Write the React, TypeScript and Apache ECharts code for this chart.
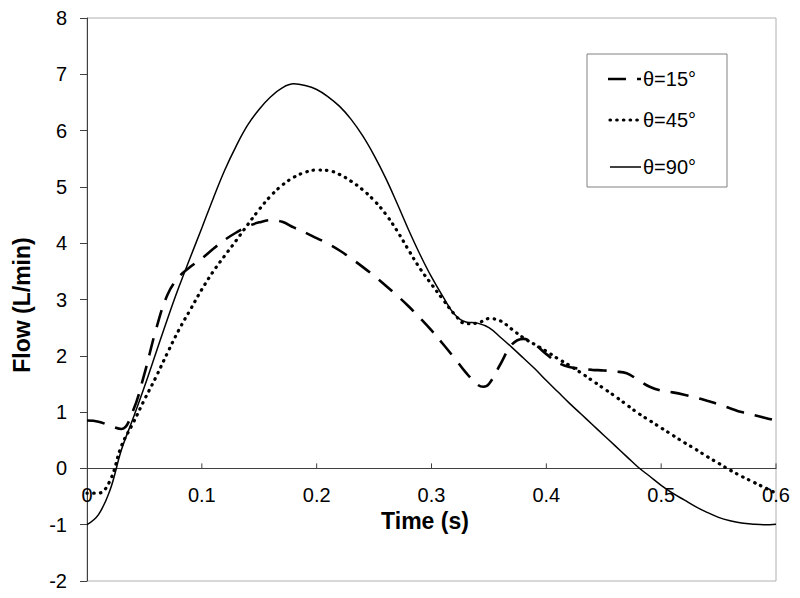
import React, { useEffect, useRef } from "react";
import * as echarts from "echarts";

const time = [0, 0.01, 0.02, 0.03, 0.04, 0.05, 0.06, 0.07, 0.08, 0.09, 0.1, 0.11, 0.12, 0.13, 0.14, 0.15, 0.16, 0.17, 0.18, 0.19, 0.2, 0.21, 0.22, 0.23, 0.24, 0.25, 0.26, 0.27, 0.28, 0.29, 0.3, 0.31, 0.32, 0.33, 0.34, 0.35, 0.36, 0.37, 0.38, 0.39, 0.4, 0.41, 0.42, 0.43, 0.44, 0.45, 0.46, 0.47, 0.48, 0.49, 0.5, 0.51, 0.52, 0.53, 0.54, 0.55, 0.56, 0.57, 0.58, 0.59, 0.6];

const t15 = [0, 0.01, 0.02, 0.03, 0.04, 0.05, 0.06, 0.07, 0.08, 0.09, 0.1, 0.11, 0.12, 0.13, 0.14, 0.15, 0.16, 0.17, 0.18, 0.19, 0.2, 0.21, 0.22, 0.23, 0.24, 0.25, 0.26, 0.27, 0.28, 0.29, 0.3, 0.31, 0.32, 0.33, 0.34, 0.345, 0.35, 0.36, 0.37, 0.38, 0.39, 0.4, 0.41, 0.42, 0.43, 0.44, 0.45, 0.46, 0.47, 0.48, 0.49, 0.5, 0.51, 0.52, 0.53, 0.54, 0.55, 0.56, 0.57, 0.58, 0.59, 0.6];
const flow15 = [0.85, 0.83, 0.76, 0.7, 1.02, 1.68, 2.46, 3.08, 3.4, 3.58, 3.73, 3.9, 4.06, 4.19, 4.3, 4.37, 4.41, 4.38, 4.28, 4.19, 4.09, 3.99, 3.87, 3.73, 3.58, 3.42, 3.25, 3.07, 2.88, 2.67, 2.45, 2.21, 1.96, 1.7, 1.49, 1.45, 1.5, 1.85, 2.2, 2.3, 2.2, 2.03, 1.88, 1.8, 1.77, 1.75, 1.74, 1.72, 1.69, 1.57, 1.45, 1.38, 1.35, 1.31, 1.26, 1.2, 1.14, 1.07, 1.0, 0.95, 0.9, 0.85];

const flow45 = [-0.44, -0.44, -0.22, 0.4, 0.8, 1.22, 1.62, 2.05, 2.46, 2.82, 3.18, 3.5, 3.78, 4.05, 4.33, 4.6, 4.84, 5.03, 5.17, 5.26, 5.3, 5.29, 5.22, 5.1, 4.95, 4.76, 4.52, 4.22, 3.88, 3.55, 3.27, 3.0, 2.74, 2.57, 2.58, 2.66, 2.62, 2.47, 2.32, 2.2, 2.08, 1.95, 1.83, 1.7, 1.56, 1.42, 1.28, 1.13, 0.98, 0.85, 0.72, 0.59, 0.46, 0.34, 0.21, 0.09, -0.03, -0.14, -0.24, -0.34, -0.44];

const flow90 = [-1.0, -0.82, -0.39, 0.33, 0.88, 1.45, 2.05, 2.65, 3.22, 3.75, 4.27, 4.8, 5.3, 5.73, 6.1, 6.38, 6.6, 6.76, 6.83, 6.8, 6.73, 6.6, 6.43, 6.2, 5.91, 5.56, 5.16, 4.71, 4.24, 3.8, 3.4, 3.05, 2.74, 2.6, 2.58, 2.5, 2.33, 2.15, 1.96, 1.77, 1.56, 1.36, 1.16, 0.97, 0.78, 0.59, 0.4, 0.21, 0.02, -0.14, -0.3, -0.44, -0.56, -0.68, -0.78, -0.87, -0.93, -0.97, -0.99, -1.0, -0.99];

const seriesNames = ["θ=15°", "θ=45°", "θ=90°"];
const xTicks = [0, 0.1, 0.2, 0.3, 0.4, 0.5, 0.6];
const yTicks = [-2, -1, 0, 1, 2, 3, 4, 5, 6, 7, 8];

const FONT = "'Liberation Sans', Arial, sans-serif";

const zip = (t: number[], v: number[]) => t.map((x, i) => [x, v[i]]);

export default function App() {
  const ref = useRef<HTMLDivElement>(null);
  useEffect(() => {
    if (!ref.current) return;
    const chart = echarts.init(ref.current, undefined, { renderer: "svg" });
    const dashed = [18, 11];
    const dotted = [0.5, 6.2];
    chart.setOption({
      animation: false,
      backgroundColor: "#fff",
      grid: {
        left: 87,
        right: 24,
        top: 18,
        bottom: 17,
        show: true,
        borderColor: "#b0b0b0",
        borderWidth: 1,
        containLabel: false,
        outerBoundsMode: "none",
      },
      xAxis: {
        type: "value",
        min: xTicks[0],
        max: xTicks[xTicks.length - 1],
        interval: 0.1,
        axisLine: { onZero: true, lineStyle: { color: "#404040", width: 1 } },
        axisTick: { show: false },
        axisLabel: { show: false },
        splitLine: { show: false },
      },
      yAxis: {
        type: "value",
        min: yTicks[0],
        max: yTicks[yTicks.length - 1],
        interval: 1,
        axisLine: { show: true, onZero: false, lineStyle: { color: "#404040", width: 1 } },
        axisTick: { show: true, inside: false, length: 7, lineStyle: { color: "#404040" } },
        axisLabel: { color: "#000", fontSize: 20, fontFamily: FONT, margin: 20 },
        splitLine: { show: false },
      },
      series: [
        {
          name: seriesNames[0],
          type: "line",
          data: zip(t15, flow15),
          showSymbol: false,
          smooth: 0.4,
          lineStyle: { color: "#000", width: 2.6, type: dashed },
        },
        {
          name: seriesNames[1],
          type: "line",
          data: zip(time, flow45),
          showSymbol: false,
          smooth: 0.4,
          lineStyle: { color: "#000", width: 3.2, type: dotted, cap: "round" },
        },
        {
          name: seriesNames[2],
          type: "line",
          data: zip(time, flow90),
          showSymbol: false,
          smooth: 0.4,
          lineStyle: { color: "#000", width: 1.5, type: "solid" },
        },
      ],
    });

    const tickEls: any[] = [];
    xTicks.forEach((v) => {
      const p = chart.convertToPixel({ gridIndex: 0 }, [v, 0]) as number[];
      if (v !== xTicks[0]) {
        tickEls.push({
          type: "line",
          shape: { x1: p[0], y1: p[1], x2: p[0], y2: p[1] - 5 },
          style: { stroke: "#404040", lineWidth: 1 },
          z: 5,
        });
      }
      tickEls.push({
        type: "text",
        x: p[0],
        y: p[1] + 27,
        z: 5,
        style: {
          text: String(v),
          font: `20px ${FONT}`,
          fill: "#000",
          align: "center",
          verticalAlign: "middle",
        },
      });
    });

    chart.setOption({
      graphic: [
        ...tickEls,
        {
          type: "text",
          x: 425,
          y: 521,
          style: {
            text: "Time (s)",
            font: `bold 23px ${FONT}`,
            fill: "#000",
            align: "center",
            verticalAlign: "middle",
          },
        },
        {
          type: "text",
          x: 22,
          y: 305,
          rotation: Math.PI / 2,
          style: {
            text: "Flow (L/min)",
            font: `bold 23px ${FONT}`,
            fill: "#000",
            align: "center",
            verticalAlign: "middle",
          },
        },
        {
          type: "rect",
          shape: { x: 587, y: 54, width: 140, height: 133 },
          style: { fill: "#fff", stroke: "#808080", lineWidth: 1 },
          z: 10,
        },
        {
          type: "line",
          shape: { x1: 608, y1: 79, x2: 641, y2: 79 },
          style: { stroke: "#000", lineWidth: 2.6, lineDash: dashed },
          z: 11,
        },
        {
          type: "line",
          shape: { x1: 610, y1: 120, x2: 641, y2: 120 },
          style: { stroke: "#000", lineWidth: 3.2, lineDash: dotted, lineCap: "round" },
          z: 11,
        },
        {
          type: "line",
          shape: { x1: 610, y1: 167, x2: 641, y2: 167 },
          style: { stroke: "#000", lineWidth: 1.5 },
          z: 11,
        },
        ...seriesNames.map((n, i) => ({
          type: "text",
          x: 643,
          y: [79, 120, 167][i],
          z: 11,
          style: {
            text: n,
            font: `20px ${FONT}`,
            fill: "#000",
            align: "left",
            verticalAlign: "middle",
          },
        })),
      ],
    });
    return () => chart.dispose();
  }, []);
  return (
    <div
      ref={ref}
      style={{ position: "fixed", left: 0, top: 0, width: 800, height: 598, background: "#fff" }}
    />
  );
}
